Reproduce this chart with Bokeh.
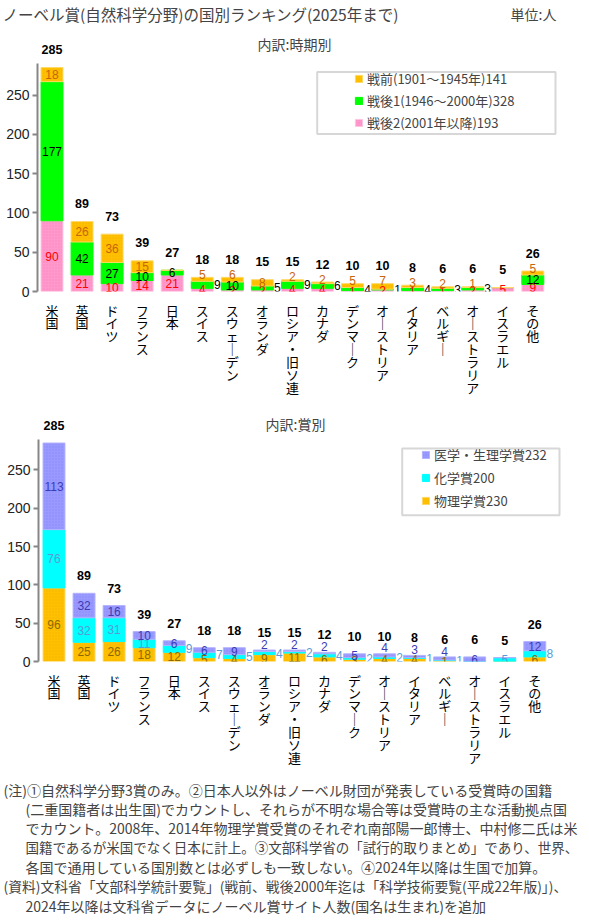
from bokeh.plotting import figure
from bokeh.models import (ColumnDataSource, FixedTicker, Range1d, Label, Legend,
                          LegendItem, BoxAnnotation)
from bokeh.layouts import column
from bokeh.embed import file_html
from bokeh.resources import INLINE
from bokeh.core.properties import value

# ---------------- data ----------------
categories = ["米国", "英国", "ドイツ", "フランス", "日本", "スイス", "スウェーデン",
              "オランダ", "ロシア・旧ソ連", "カナダ", "デンマーク", "オーストリア",
              "イタリア", "ベルギー", "オーストラリア", "イスラエル", "その他"]

# 時期別
period_post2 = [90, 21, 10, 14, 21, 4, 2, 2, 4, 4, 1, 2, 1, 1, 2, 5, 9]      # 2001年以降
period_post1 = [177, 42, 27, 10, 6, 9, 10, 5, 9, 6, 4, 1, 4, 3, 3, 0, 12]    # 1946～2000年
period_pre = [18, 26, 36, 15, 0, 5, 6, 8, 2, 2, 5, 7, 3, 2, 1, 0, 5]         # 1901～1945年

# 賞別
prize_physics = [96, 25, 26, 18, 12, 5, 4, 9, 11, 6, 3, 4, 4, 1, 0, 0, 6]
prize_chem = [76, 32, 31, 11, 9, 7, 5, 4, 2, 4, 2, 2, 1, 1, 0, 5, 8]
prize_med = [113, 32, 16, 10, 6, 6, 9, 2, 2, 2, 5, 4, 3, 4, 6, 0, 12]

y_ticks = [0, 50, 100, 150, 200, 250]

title_text = "ノーベル賞(自然科学分野)の国別ランキング(2025年まで)"
unit_text = "単位:人"
sub1_text = "内訳:時期別"
sub2_text = "内訳:賞別"

notes = [
    "(注)①自然科学分野3賞のみ。②日本人以外はノーベル財団が発表している受賞時の国籍",
    "(二重国籍者は出生国)でカウントし、それらが不明な場合等は受賞時の主な活動拠点国",
    "でカウント。2008年、2014年物理学賞受賞のそれぞれ南部陽一郎博士、中村修二氏は米",
    "国籍であるが米国でなく日本に計上。③文部科学省の「試行的取りまとめ」であり、世界、",
    "各国で通用している国別数とは必ずしも一致しない。④2024年以降は生国で加算。",
    "(資料)文科省「文部科学統計要覧」(戦前、戦後2000年迄は「科学技術要覧(平成22年版)」)、",
    "2024年以降は文科省データにノーベル賞サイト人数(国名は生まれ)を追加",
]

# ---------------- layout constants ----------------
FONT_JP = "Noto Sans CJK JP"
FONT_NUM = "Liberation Sans"
W = 589
RIGHT = 2
PITCH = 30.05     # pixels per category
BAR_W = 0.73

n = len(categories)
xs = list(range(n))


def vert(s):
    return "\n".join("｜" if ch == "ー" else ch for ch in s)


def no_align(p):
    try:
        p.frame_align = False
    except Exception:
        pass


def text_fig(height):
    p = figure(width=W, height=height, x_range=Range1d(0, W), y_range=Range1d(height, 0),
               toolbar_location=None, output_backend="svg", min_border=0,
               x_axis_location=None, y_axis_location=None)
    p.xgrid.visible = False
    p.ygrid.visible = False
    p.outline_line_color = None
    no_align(p)
    return p


def make_fig(height, top, bottom, yend, left, px0):
    x_start = -(px0 - left) / PITCH
    x_end = x_start + (W - left - RIGHT) / PITCH
    p = figure(width=W, height=height, x_range=Range1d(x_start, x_end),
               y_range=Range1d(0, yend), toolbar_location=None, output_backend="svg",
               min_border_left=left, min_border_right=RIGHT, min_border_top=top,
               min_border_bottom=bottom)
    no_align(p)
    p.outline_line_color = None
    p.xgrid.visible = False
    p.ygrid.visible = False
    p.background_fill_color = "white"
    yax = p.yaxis[0]
    yax.ticker = FixedTicker(ticks=y_ticks)
    yax.bounds = (0, 290)
    yax.axis_line_color = "#868686"
    yax.axis_line_width = 2
    yax.major_tick_line_color = "#868686"
    yax.major_tick_line_width = 2
    yax.major_tick_in = 0
    yax.major_tick_out = 5
    yax.minor_tick_line_color = None
    yax.major_label_standoff = 3
    yax.major_label_text_font = FONT_NUM
    yax.major_label_text_font_size = "14px"
    yax.major_label_text_color = "#222222"
    xax = p.xaxis[0]
    xax.ticker = FixedTicker(ticks=xs)
    xax.major_label_overrides = {i: vert(c) for i, c in enumerate(categories)}
    xax.axis_line_color = None
    xax.major_tick_line_color = None
    xax.minor_tick_line_color = None
    xax.major_label_standoff = 3
    xax.major_label_text_font = FONT_JP
    xax.major_label_text_font_size = "13px"
    xax.major_label_text_color = "black"
    xax.major_label_text_line_height = 0.68
    k = (height - top - bottom) / yend
    zero_px = height - bottom
    fx = lambda px: (px - px0) / PITCH
    fy = lambda py: (zero_px - py) / k
    return p, k, fx, fy


def add_texts(p, xs_, ys_, ts_, dx_, color, size="12px", bold=False):
    src = ColumnDataSource(dict(x=xs_, y=ys_, t=ts_, dx=dx_))
    p.text(x="x", y="y", text="t", x_offset="dx", source=src, text_align="center",
           text_baseline="middle", text_font=value(FONT_NUM), text_font_size=size,
           text_font_style="bold" if bold else "normal", text_color=color)


# ================= title strip =================
H0 = 26
p0 = text_fig(H0)
p0.add_layout(Label(x=2, y=13.5, text=title_text, text_font=FONT_JP,
                    text_font_size="15.5px", text_baseline="middle", text_align="left"))
p0.add_layout(Label(x=510, y=13.5, text=unit_text, text_font=FONT_JP,
                    text_font_size="14px", text_baseline="middle", text_align="left"))

# ================= chart 1 : 時期別 =================
OFF1 = H0
H1, T1, B1, Y1 = 374, 8, 108, 327
p1, k1, fx1, fy1r = make_fig(H1, T1, B1, Y1, left=37, px0=51.5)
fy1 = lambda ref_y: fy1r(ref_y - OFF1)

src1 = ColumnDataSource(dict(x=xs, post2=period_post2, post1=period_post1, pre=period_pre))
r1 = p1.vbar_stack(["post2", "post1", "pre"], x="x", width=BAR_W, source=src1,
                   fill_color=["#ff99cc", "#00ff00", "#ffc000"],
                   line_color=["#ffc6e2", "#00ff00", "#ffd966"], line_width=1,
                   hatch_pattern=["dot", " ", "dot"], hatch_color=["#f07ab8", "#00ff00", "#eaa800"],
                   hatch_scale=3, hatch_weight=1, hatch_alpha=0.55)

totals1 = [a + b + c for a, b, c in zip(period_post2, period_post1, period_pre)]
series1 = [period_post2, period_post1, period_pre]
colors1 = ["#ff0000", "#000000", "#c8640a"]
for s, vals in enumerate(series1):
    lx, ly, lt, ld = [], [], [], []
    for i, v in enumerate(vals):
        if v == 0:
            continue
        base = sum(series1[j][i] for j in range(s))
        y = base + v / 2
        dx = 0
        if s == 1 and v < 10 and i >= 5:
            dx = 15
        if s == 2 and v < 8 and i >= 5:
            y = totals1[i] + 3 / k1
        lx.append(i); ly.append(y); lt.append(str(v)); ld.append(dx)
    add_texts(p1, lx, ly, lt, ld, colors1[s])
add_texts(p1, xs, [t + 18 / k1 for t in totals1], [str(t) for t in totals1], [0] * n,
          "#000000", size="12.5px", bold=True)

p1.add_layout(Label(x=fx1(294), y=fy1(44), text=sub1_text, text_font=FONT_JP,
                    text_font_size="14px", text_baseline="middle", text_align="center"))

p1.add_layout(BoxAnnotation(left=fx1(316.7), right=fx1(555), top=fy1(71.7), bottom=fy1(134),
                            fill_color="white", fill_alpha=1, line_color="#7a7a7a", line_width=2))
labels1 = [f"戦前(1901～1945年){sum(period_pre)}",
           f"戦後1(1946～2000年){sum(period_post1)}",
           f"戦後2(2001年以降){sum(period_post2)}"]
leg1 = Legend(items=[LegendItem(label=labels1[0], renderers=[r1[2]]),
                     LegendItem(label=labels1[1], renderers=[r1[1]]),
                     LegendItem(label=labels1[2], renderers=[r1[0]])],
              location=(317, 159), border_line_color=None, background_fill_alpha=0,
              padding=0, margin=0, spacing=3, label_height=18, glyph_width=9, glyph_height=9,
              label_standoff=4, label_text_font=FONT_JP, label_text_font_size="13px")
p1.add_layout(leg1)

# ================= chart 2 : 賞別 =================
H2, T2, B2, Y2 = 370, 8, 102, 330
p2, k2, fx2, fy2 = make_fig(H2, T2, B2, Y2, left=38, px0=53.5)

src2 = ColumnDataSource(dict(x=xs, phy=prize_physics, chem=prize_chem, med=prize_med))
r2 = p2.vbar_stack(["phy", "chem", "med"], x="x", width=BAR_W, source=src2,
                   fill_color=["#ffc000", "#00ffff", "#9999ff"],
                   line_color=["#ffd966", "#00ffff", "#b4b4ff"], line_width=1,
                   hatch_pattern=["dot", " ", "dot"], hatch_color=["#eaa800", "#00ffff", "#7f7ff0"],
                   hatch_scale=3, hatch_weight=1, hatch_alpha=0.55)

totals2 = [a + b + c for a, b, c in zip(prize_physics, prize_chem, prize_med)]
series2 = [prize_physics, prize_chem, prize_med]
colors2 = ["#8a6a00", "#5b9bd5", "#3c3cb4"]
for s, vals in enumerate(series2):
    lx, ly, lt, ld = [], [], [], []
    for i, v in enumerate(vals):
        if v == 0:
            continue
        base = sum(series2[j][i] for j in range(s))
        y = base + v / 2
        dx = 0
        if s == 1 and v < 10 and i >= 4 and prize_med[i] > 0:
            dx = 15
        if s == 2 and v <= 4 and i >= 7:
            y = totals2[i] + 6 / k2
        lx.append(i); ly.append(y); lt.append(str(v)); ld.append(dx)
    add_texts(p2, lx, ly, lt, ld, colors2[s])
add_texts(p2, xs, [t + 18 / k2 for t in totals2], [str(t) for t in totals2], [0] * n,
          "#000000", size="12.5px", bold=True)

p2.add_layout(Label(x=fx2(295), y=fy2(24), text=sub2_text, text_font=FONT_JP,
                    text_font_size="14px", text_baseline="middle", text_align="center"))
p2.add_layout(BoxAnnotation(left=fx2(401.7), right=fx2(559), top=fy2(49), bottom=fy2(117.7),
                            fill_color="white", fill_alpha=1, line_color="#7a7a7a", line_width=2))
labels2 = [f"医学・生理学賞{sum(prize_med)}", f"化学賞{sum(prize_chem)}",
           f"物理学賞{sum(prize_physics)}"]
leg2 = Legend(items=[LegendItem(label=labels2[0], renderers=[r2[2]]),
                     LegendItem(label=labels2[1], renderers=[r2[1]]),
                     LegendItem(label=labels2[2], renderers=[r2[0]])],
              location=(383, 151), border_line_color=None, background_fill_alpha=0,
              padding=0, margin=0, spacing=3, label_height=20, glyph_width=9, glyph_height=9,
              label_standoff=4, label_text_font=FONT_JP, label_text_font_size="13px")
p2.add_layout(leg2)

# ================= notes =================
H3 = 154
p3 = text_fig(H3)
note_y = [19, 38, 57, 76, 96, 115, 135]
note_x = [3, 25, 25, 25, 25, 3, 25]
note_size = ["14px", "14px", "14px", "13.5px", "14px", "13.8px", "14px"]
for tx, ty, fs, txt in zip(note_x, note_y, note_size, notes):
    p3.add_layout(Label(x=tx, y=ty, text=txt, text_font=FONT_JP, text_font_size=fs,
                        text_baseline="middle", text_align="left"))

layout = column(p0, p1, p2, p3)
open("out.html", "w").write(file_html(layout, INLINE))
